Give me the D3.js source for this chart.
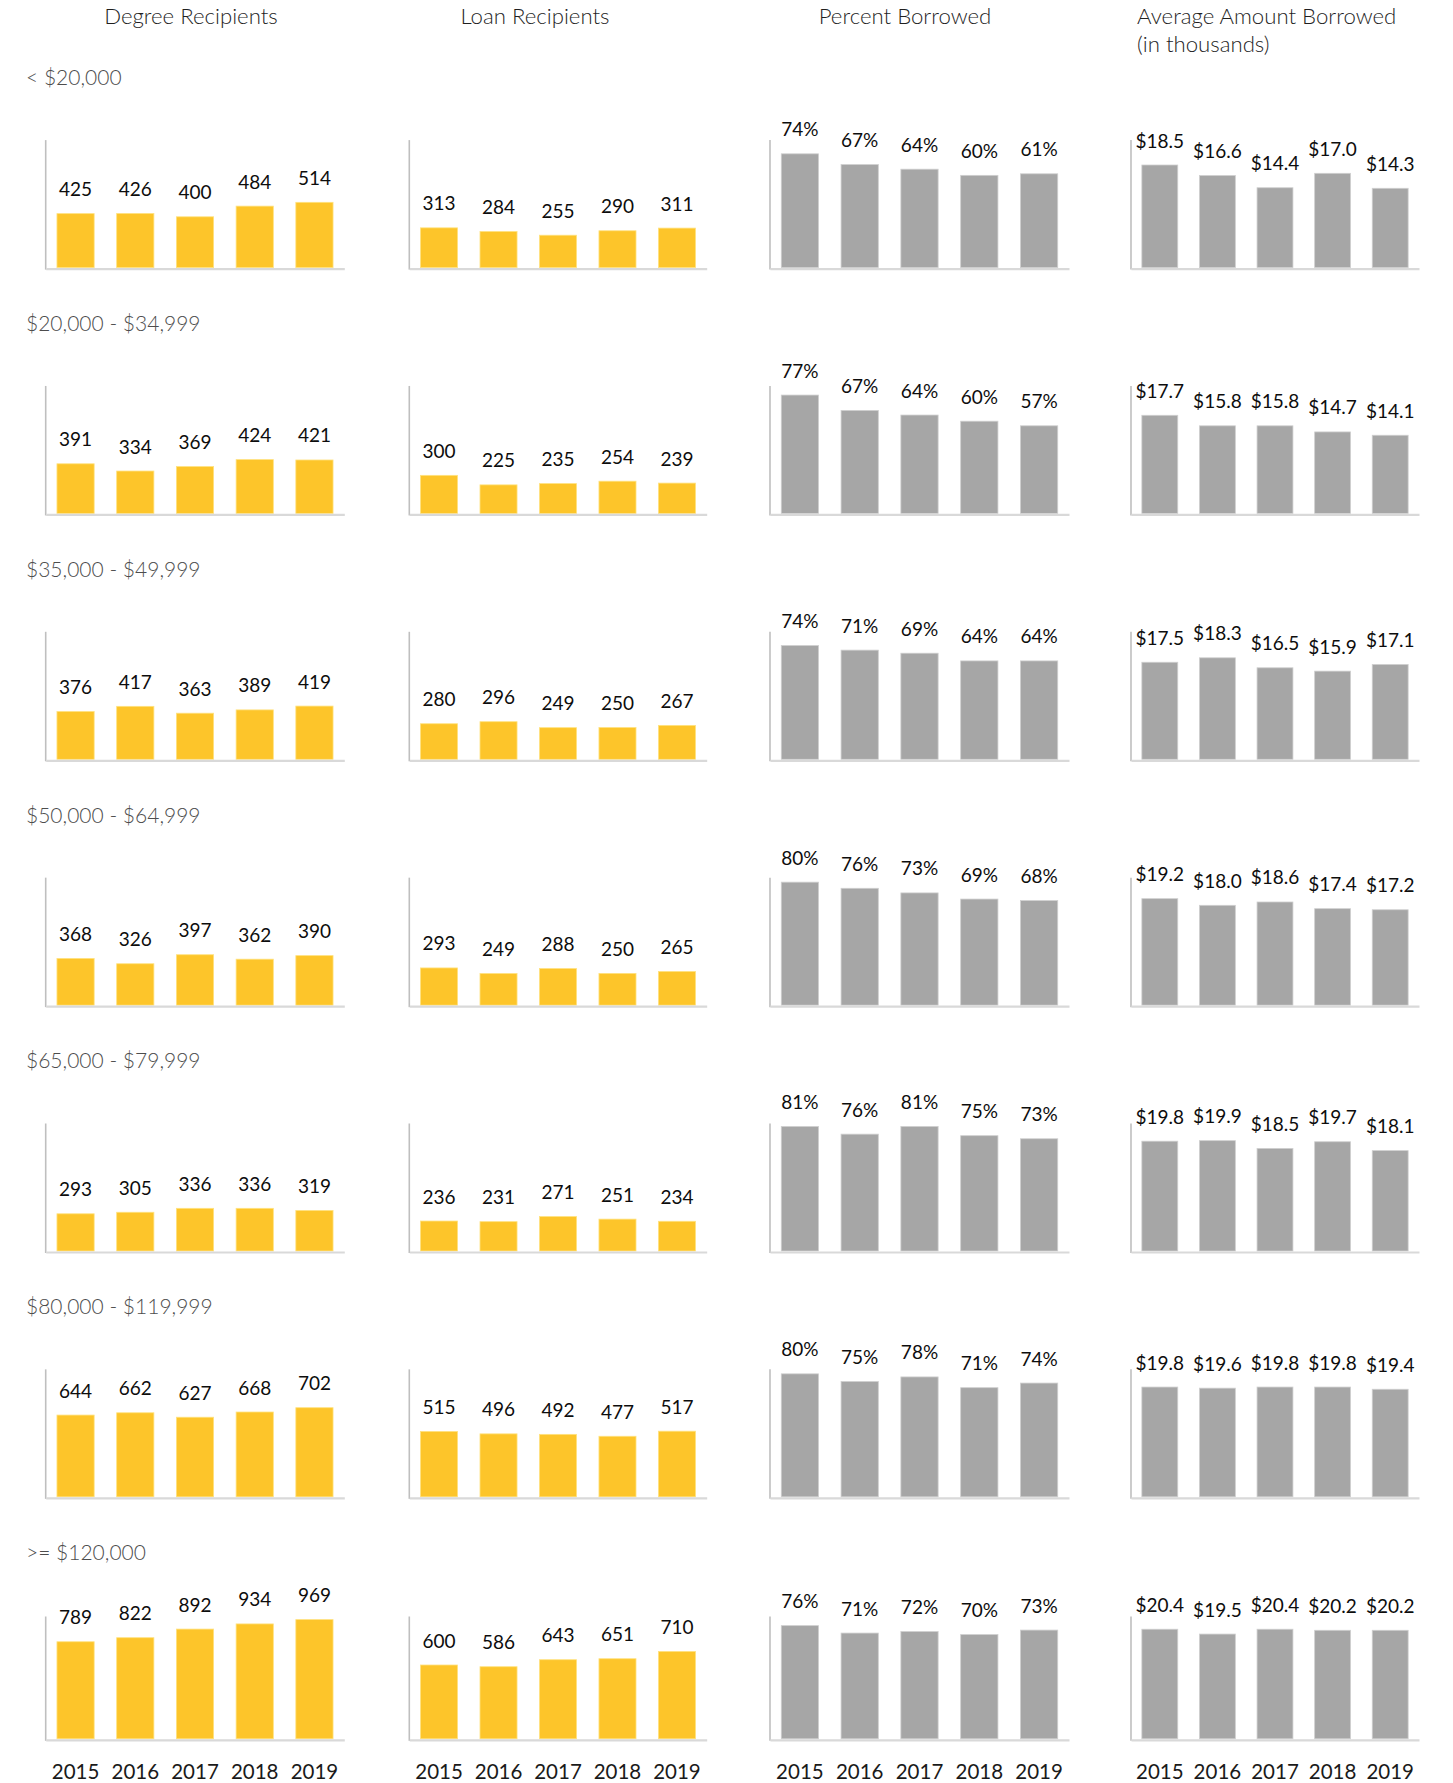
<!DOCTYPE html>
<html>
<head>
<meta charset="utf-8">
<script src="https://cdn.jsdelivr.net/npm/d3@7"></script>
<style>
  html, body { margin: 0; padding: 0; background: #ffffff; }
  svg { display: block; }
  text { font-family: Lato, "Open Sans", sans-serif; }
</style>
</head>
<body>
<svg id="chart" width="1453" height="1783"></svg>
<script>
// Graduates by family income bracket, 2015–2019
const years = ["2015", "2016", "2017", "2018", "2019"];

const incomeBrackets = [
  "< $20,000",
  "$20,000 - $34,999",
  "$35,000 - $49,999",
  "$50,000 - $64,999",
  "$65,000 - $79,999",
  "$80,000 - $119,999",
  ">= $120,000"
];

const columnTitles = ["Degree Recipients", "Loan Recipients", "Percent Borrowed", "Average Amount Borrowed"];
const columnSubtitle = "(in thousands)";

const degreeRecipients = [
  [425, 426, 400, 484, 514],
  [391, 334, 369, 424, 421],
  [376, 417, 363, 389, 419],
  [368, 326, 397, 362, 390],
  [293, 305, 336, 336, 319],
  [644, 662, 627, 668, 702],
  [789, 822, 892, 934, 969]
];

const loanRecipients = [
  [313, 284, 255, 290, 311],
  [300, 225, 235, 254, 239],
  [280, 296, 249, 250, 267],
  [293, 249, 288, 250, 265],
  [236, 231, 271, 251, 234],
  [515, 496, 492, 477, 517],
  [600, 586, 643, 651, 710]
];

// share of degree recipients who borrowed
const percentBorrowed = [
  [0.74, 0.67, 0.64, 0.60, 0.61],
  [0.77, 0.67, 0.64, 0.60, 0.57],
  [0.74, 0.71, 0.69, 0.64, 0.64],
  [0.80, 0.76, 0.73, 0.69, 0.68],
  [0.81, 0.76, 0.81, 0.75, 0.73],
  [0.80, 0.75, 0.78, 0.71, 0.74],
  [0.76, 0.71, 0.72, 0.70, 0.73]
];

// average amount borrowed, thousands of dollars
const averageBorrowed = [
  [18.5, 16.6, 14.4, 17.0, 14.3],
  [17.7, 15.8, 15.8, 14.7, 14.1],
  [17.5, 18.3, 16.5, 15.9, 17.1],
  [19.2, 18.0, 18.6, 17.4, 17.2],
  [19.8, 19.9, 18.5, 19.7, 18.1],
  [19.8, 19.6, 19.8, 19.8, 19.4],
  [20.4, 19.5, 20.4, 20.2, 20.2]
];

// ---- layout ----
const YELLOW = "#fdc52a", YELLOW_EDGE = "#ffe27f";
const GREY = "#a6a6a6", GREY_EDGE = "#cfcfcf";

const columns = [
  { data: degreeRecipients, max: 1000,  fmt: d => d3.format("d")(d),            fill: YELLOW, edge: YELLOW_EDGE, x0: 45.7,  x1: 344.3 },
  { data: loanRecipients,   max: 1000,  fmt: d => d3.format("d")(d),            fill: YELLOW, edge: YELLOW_EDGE, x0: 409.3, x1: 706.7 },
  { data: percentBorrowed,  max: 0.826, fmt: d => d3.format(".0%")(d),          fill: GREY,   edge: GREY_EDGE,   x0: 770,   x1: 1069 },
  { data: averageBorrowed,  max: 22.9,  fmt: d => "$" + d3.format(".1f")(d),    fill: GREY,   edge: GREY_EDGE,   x0: 1131,  x1: 1419 }
];

const rowPitch = 245.85;
function rowGeom(r) {
  if (r === incomeBrackets.length - 1) {
    return { base: 1738.8, plotH: 123, axisTop: 1616.5 };
  }
  const base = 267.6 + rowPitch * r;
  return { base, plotH: 127, axisTop: base - 127.5 };
}

const svg = d3.select("#chart");

// column headings
const headX = [191, 535, 905];
columnTitles.forEach((t, i) => {
  svg.append("text")
    .attr("x", i < 3 ? headX[i] : 1137)
    .attr("y", 23.5)
    .attr("text-anchor", i < 3 ? "middle" : "start")
    .attr("font-size", 22.2)
    .attr("font-weight", 300)
    .attr("fill", "#1f1f1f")
    .text(t);
});
svg.append("text")
  .attr("x", 1137).attr("y", 51.5)
  .attr("font-size", 22.2).attr("font-weight", 300)
  .attr("fill", "#1f1f1f")
  .text(columnSubtitle);

incomeBrackets.forEach((label, r) => {
  const g = rowGeom(r);

  // bracket label
  svg.append("text")
    .attr("x", 26)
    .attr("y", 85 + rowPitch * r)
    .attr("font-size", 21)
    .attr("font-weight", 300)
    .attr("fill", "#4d4d4d")
    .text(label);

  columns.forEach(col => {
    const x = d3.scaleBand()
      .domain(years)
      .range([col.x0, col.x1])
      .paddingInner(0.377)
      .paddingOuter(0.1885);
    const y = d3.scaleLinear()
      .domain([0, col.max])
      .range([g.base, g.base - g.plotH]);

    const values = col.data[r];
    const chart = svg.append("g");

    chart.selectAll("rect")
      .data(values)
      .join("rect")
      .attr("x", (d, i) => x(years[i]))
      .attr("y", d => y(d))
      .attr("width", x.bandwidth())
      .attr("height", d => g.base - y(d))
      .attr("fill", col.fill)
      .attr("stroke", col.edge)
      .attr("stroke-width", 0.8);

    chart.selectAll("text.value")
      .data(values)
      .join("text")
      .attr("class", "value")
      .attr("x", (d, i) => x(years[i]) + x.bandwidth() / 2)
      .attr("y", d => y(d) - 17.5)
      .attr("text-anchor", "middle")
      .attr("font-size", 19)
      .attr("fill", "#0d0d0d")
      .text(col.fmt);

    // value axis line (no ticks)
    chart.append("line")
      .attr("x1", col.x0).attr("x2", col.x0)
      .attr("y1", g.axisTop).attr("y2", g.base + 2)
      .attr("stroke", "#bfbfbf")
      .attr("stroke-width", 1.6);

    // category axis
    const xAxis = d3.axisBottom(x).tickSize(0).tickSizeOuter(0).tickPadding(0);
    const axisG = chart.append("g")
      .attr("transform", `translate(0,${g.base + 1})`)
      .call(xAxis);
    axisG.select(".domain").attr("stroke", "#d9d9d9").attr("stroke-width", 2.2);
    if (r === incomeBrackets.length - 1) {
      axisG.selectAll(".tick text")
        .attr("y", 39)
        .attr("dy", null)
        .attr("font-family", "Lato, 'Open Sans', sans-serif")
        .attr("font-size", 20.5)
        .attr("fill", "#1a1a1a");
    } else {
      axisG.selectAll(".tick text").remove();
    }
  });
});
</script>
</body>
</html>
